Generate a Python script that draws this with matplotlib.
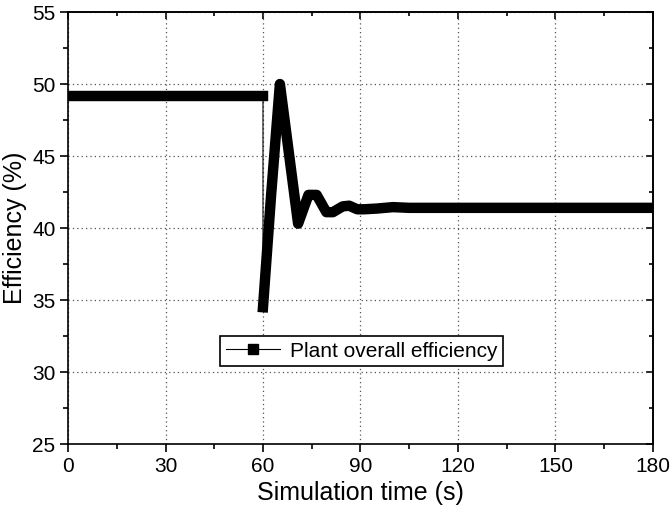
import matplotlib.pyplot as plt
from matplotlib.lines import Line2D
from matplotlib.ticker import MultipleLocator

plt.rcParams['font.family'] = ['Liberation Sans', 'DejaVu Sans']

# readings taken off the chart
t_before = [0, 60]
eff_before = [49.2, 49.2]

t_after = [60, 62.5, 65.2, 70.8, 74.0, 76.5, 79.5, 81.5, 84.5, 86.5, 89.0, 91.0, 95.0, 100.0, 105.0, 180.0]
eff_after = [34.5, 42.3, 50.0, 40.3, 42.3, 42.3, 41.1, 41.1, 41.5, 41.55, 41.3, 41.3, 41.35, 41.45, 41.4, 41.4]

x_ticks = [0, 30, 60, 90, 120, 150, 180]
y_ticks = [25, 30, 35, 40, 45, 50, 55]

fig = plt.figure(figsize=(6.72, 5.11), dpi=100)
ax = fig.add_axes([0.1012, 0.1311, 0.8705, 0.8454])

# thin connecting line (step at t=60)
ax.plot(t_before + t_after, eff_before + eff_after, '-', color='black', lw=0.8, zorder=3)
# thick band made of dense square markers in the original
ax.plot(t_before, eff_before, '-', color='black', lw=7.5, solid_capstyle='projecting', zorder=4)
ax.plot(t_after, eff_after, '-', color='black', lw=7.5, solid_capstyle='projecting',
        solid_joinstyle='round', zorder=4)

ax.set_xlim(0, 180)
ax.set_ylim(25, 55)
ax.set_xticks(x_ticks)
ax.set_yticks(y_ticks)
ax.xaxis.set_minor_locator(MultipleLocator(15))
ax.yaxis.set_minor_locator(MultipleLocator(2.5))
ax.tick_params(which='major', direction='out', length=6, width=1.2, labelsize=15, pad=3)
ax.tick_params(which='minor', direction='out', length=3.5, width=1.2)

top = ax.secondary_xaxis('top')
top.set_xticks(x_ticks)
top.xaxis.set_minor_locator(MultipleLocator(15))
top.tick_params(which='major', direction='in', length=5, width=1.2, labeltop=False)
top.tick_params(which='minor', direction='in', length=3, width=1.2)
right = ax.secondary_yaxis('right')
right.set_yticks(y_ticks)
right.yaxis.set_minor_locator(MultipleLocator(2.5))
right.tick_params(which='major', direction='in', length=5, width=1.2, labelright=False)
right.tick_params(which='minor', direction='in', length=3, width=1.2)

for sp in list(ax.spines.values()) + [top.spines['top'], right.spines['right']]:
    sp.set_linewidth(1.2)

ax.grid(True, which='major', linestyle=(0, (1, 2.5)), color='#555555', lw=0.9)

ax.set_xlabel('Simulation time (s)', fontsize=18, labelpad=4)
ax.set_ylabel('Efficiency (%)', fontsize=18, labelpad=4)

handle = Line2D([], [], color='black', lw=0.8, marker='s', markersize=7)
leg = ax.legend([handle], ['Plant overall efficiency'], loc='upper left',
                bbox_to_anchor=(0.2427, 0.273), fontsize=15, frameon=True,
                fancybox=False, edgecolor='black', framealpha=1,
                handlelength=2.6, borderpad=0.25, handletextpad=0.5)
leg.get_frame().set_linewidth(1.2)

fig.savefig('out.png', dpi=100)
